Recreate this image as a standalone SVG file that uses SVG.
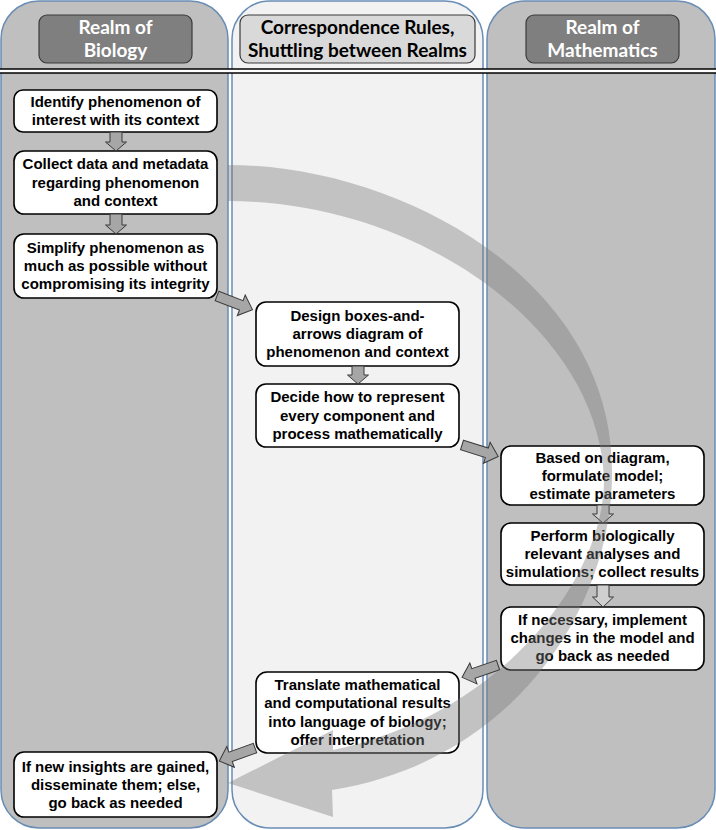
<svg xmlns="http://www.w3.org/2000/svg" xmlns:xlink="http://www.w3.org/1999/xlink" width="716" height="830" viewBox="0 0 716 830">
<defs>
<style>
.panelD{fill:#bfbfbf;stroke:#6a8db5;stroke-width:1.5}
.panelL{fill:#f2f2f2;stroke:#6a8db5;stroke-width:1.5}
.hdrD{fill:#7f7f7f;stroke:#3a3a3a;stroke-width:1.2}
.hdrL{fill:#d9d9d9;stroke:#3a3a3a;stroke-width:1.2}
.ht{font-family:Lato,"Open Sans",sans-serif;font-weight:bold;font-size:19px;text-anchor:middle}
.htw{fill:#ffffff}
.htb{fill:#000000}
.box{fill:#ffffff;stroke:#000000;stroke-width:1.6}
.bt{font-family:"Liberation Sans",Arial,sans-serif;font-weight:bold;font-size:15px;fill:#000;text-anchor:middle}
.arr{fill:#a6a6a6;stroke:#3a3a3a;stroke-width:1}
.arrL{fill:#cfcfcf;stroke:#3a3a3a;stroke-width:1}
.big{fill:#7a7a7a;fill-opacity:0.4;stroke:none}
</style>
<path id="da" d="M0,-5 H26 V-11 L38,0 L26,11 V5 H0 Z"/>
</defs>
<rect x="0" y="0" width="716" height="830" fill="#ffffff"/>
<g id="panels">
<rect class="panelD" x="1" y="1" width="227" height="827" rx="38" ry="38"/>
<rect class="panelL" x="232" y="1" width="251" height="827" rx="38" ry="38"/>
<rect class="panelD" x="487" y="1" width="228" height="827" rx="38" ry="38"/>
</g>
<g id="hdr-biology">
<rect class="hdrD" x="39" y="15" width="153" height="48" rx="8"/>
<text class="ht htw" x="115.5" y="34">Realm of</text>
<text class="ht htw" x="115.5" y="57">Biology</text>
</g>
<g id="hdr-rules">
<rect class="hdrL" x="240" y="15" width="235" height="48" rx="8"/>
<text class="ht htb" x="357.5" y="34">Correspondence Rules,</text>
<text class="ht htb" x="357.5" y="57">Shuttling between Realms</text>
</g>
<g id="hdr-math">
<rect class="hdrD" x="526" y="15" width="153" height="48" rx="8"/>
<text class="ht htw" x="602.5" y="34">Realm of</text>
<text class="ht htw" x="602.5" y="57">Mathematics</text>
</g>
<g id="divider">
<rect x="0" y="69" width="716" height="4" fill="#ffffff"/>
<line x1="0" y1="69" x2="716" y2="69" stroke="#000" stroke-width="1.5"/>
<line x1="0" y1="73" x2="716" y2="73" stroke="#000" stroke-width="1.5"/>
</g>
<g id="b1">
<rect class="box" x="14" y="90" width="203" height="42" rx="9"/>
<text class="bt" x="115.5" y="107">Identify phenomenon of</text>
<text class="bt" x="115.5" y="125.3">interest with its context</text>
</g>
<g id="b2">
<rect class="box" x="14" y="151" width="203" height="63" rx="10"/>
<text class="bt" x="115.5" y="169.2">Collect data and metadata</text>
<text class="bt" x="115.5" y="187.5">regarding phenomenon</text>
<text class="bt" x="115.5" y="205.8">and context</text>
</g>
<g id="b3">
<rect class="box" x="14" y="234" width="203" height="64" rx="10"/>
<text class="bt" x="115.5" y="252.5">Simplify phenomenon as</text>
<text class="bt" x="115.5" y="270.8">much as possible without</text>
<text class="bt" x="115.5" y="289.1">compromising its integrity</text>
</g>
<g id="b4">
<rect class="box" x="256" y="302" width="203" height="64" rx="10"/>
<text class="bt" x="357.5" y="320.7">Design boxes-and-</text>
<text class="bt" x="357.5" y="339">arrows diagram of</text>
<text class="bt" x="357.5" y="357.3">phenomenon and context</text>
</g>
<g id="b5">
<rect class="box" x="256" y="384" width="203" height="63" rx="10"/>
<text class="bt" x="357.5" y="402.2">Decide how to represent</text>
<text class="bt" x="357.5" y="420.5">every component and</text>
<text class="bt" x="357.5" y="438.8">process mathematically</text>
</g>
<g id="b6">
<rect class="box" x="501" y="446" width="203" height="59" rx="10"/>
<text class="bt" x="602.5" y="462.5">Based on diagram,</text>
<text class="bt" x="602.5" y="480.8">formulate model;</text>
<text class="bt" x="602.5" y="499.1">estimate parameters</text>
</g>
<g id="b7">
<rect class="box" x="501" y="523" width="203" height="62" rx="10"/>
<text class="bt" x="602.5" y="540.7">Perform biologically</text>
<text class="bt" x="602.5" y="559">relevant analyses and</text>
<text class="bt" x="602.5" y="577.3">simulations; collect results</text>
</g>
<g id="b8">
<rect class="box" x="501" y="607" width="203" height="63" rx="10"/>
<text class="bt" x="602.5" y="624.5">If necessary, implement</text>
<text class="bt" x="602.5" y="642.8">changes in the model and</text>
<text class="bt" x="602.5" y="661.1">go back as needed</text>
</g>
<g id="b9">
<rect class="box" x="256" y="672" width="203" height="81" rx="11"/>
<text class="bt" x="357.5" y="690">Translate mathematical</text>
<text class="bt" x="357.5" y="708.3">and computational results</text>
<text class="bt" x="357.5" y="726.6">into language of biology;</text>
<text class="bt" x="357.5" y="744.9">offer interpretation</text>
</g>
<g id="b10">
<rect class="box" x="14" y="752" width="203" height="65" rx="10"/>
<text class="bt" x="115.5" y="771.5">If new insights are gained,</text>
<text class="bt" x="115.5" y="789.8">disseminate them; else,</text>
<text class="bt" x="115.5" y="808.1">go back as needed</text>
</g>
<g id="connectors">
<path class="arr" d="M110,132 H122 V142 H126.5 L116,151 L105.5,142 H110 Z"/>
<path class="arr" d="M110,214 H122 V225 H126.5 L116,234 L105.5,225 H110 Z"/>
<path class="arr" d="M352,366 H364 V375 H368.5 L358,384 L347.5,375 H352 Z"/>
<path class="arrL" d="M597,505 H609 V514 H613.5 L603,523 L592.5,514 H597 Z"/>
<path class="arrL" d="M597,585 H609 V597 H613.5 L603,607 L592.5,597 H597 Z"/>
<use xlink:href="#da" class="arr" transform="translate(217,296) rotate(21)"/>
<use xlink:href="#da" class="arr" transform="translate(462,445) rotate(17.5)"/>
<use xlink:href="#da" class="arr" transform="translate(498,665) rotate(161)"/>
<use xlink:href="#da" class="arr" transform="translate(255,748) rotate(160)"/>
</g>
<g id="cycle-arrow">
<path class="big" d="M228,165 C400,165 612,280 612,470 C614,600 520,760 332,790 L333,817 L228,783 L333,730 L333,750 C500,715 604,580 604,480 C600,330 420,201 228,201 Z"/>
</g>
</svg>
